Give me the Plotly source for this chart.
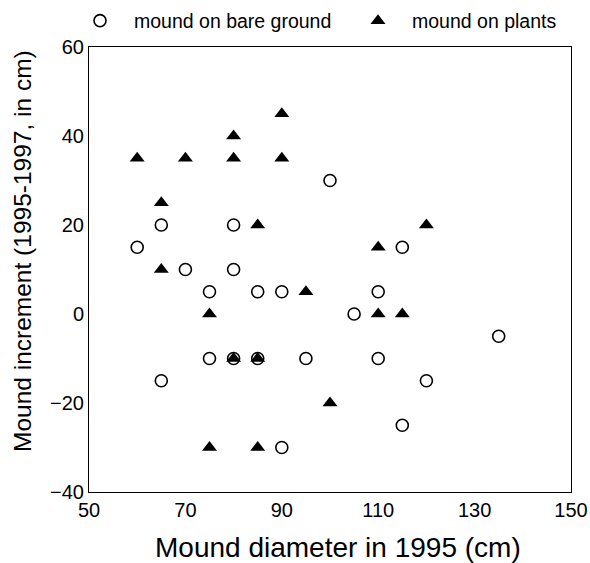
import plotly.graph_objects as go

bare_x = [60, 65, 65, 70, 75, 75, 80, 80, 80, 85, 85, 90, 90, 95, 100, 105, 110, 110, 115, 115, 120, 135]
bare_y = [15, 20, -15, 10, 5, -10, 20, 10, -10, 5, -10, 5, -30, -10, 30, 0, 5, -10, 15, -25, -15, -5]

plant_x = [60, 65, 65, 70, 75, 75, 80, 80, 80, 85, 85, 85, 90, 90, 95, 100, 110, 110, 115, 120]
plant_y = [35, 25, 10, 35, 0, -30, 40, 35, -10, 20, -10, -30, 45, 35, 5, -20, 15, 0, 0, 20]

x_ticks = [50, 70, 90, 110, 130, 150]
y_ticks = [-40, -20, 0, 20, 40, 60]

x_title = "Mound diameter in 1995 (cm)"
y_title = "Mound increment (1995-1997, in cm)"

font = "Liberation Sans, Arial, sans-serif"

W, H = 590, 563
L, R, T, B = 89, 19, 47, 71
PW, PH = W - L - R, H - T - B

fig = go.Figure()
fig.add_trace(go.Scatter(
    x=bare_x, y=bare_y, mode="markers", name="mound on bare ground", legend="legend",
    marker=dict(symbol="circle-open", size=12, color="black", line=dict(width=1.6)),
))
fig.add_trace(go.Scatter(
    x=plant_x, y=plant_y, mode="markers", name="mound on plants", legend="legend2",
    marker=dict(symbol="triangle-up", size=13, color="black", line=dict(width=0)),
))

leg_common = dict(orientation="h", yref="container", xref="container", y=1 - 21 / H, yanchor="middle",
                  xanchor="left", font=dict(size=19.5), itemwidth=58, bgcolor="rgba(0,0,0,0)")

fig.update_layout(
    width=W, height=H,
    margin=dict(l=L, r=R, t=T, b=B, autoexpand=False),
    paper_bgcolor="white", plot_bgcolor="white",
    font=dict(family=font, color="black", size=19),
    showlegend=True,
    legend=dict(x=(100 - 34) / W, **leg_common),
    legend2=dict(x=(378 - 34) / W, **leg_common),
    xaxis=dict(range=[50, 150], tickvals=x_ticks, showgrid=False, zeroline=False,
               showline=True, linecolor="black", linewidth=1, mirror=True,
               ticks="", tickfont=dict(size=20), ticklabeloverflow="allow"),
    yaxis=dict(range=[-40, 60], tickvals=y_ticks, showgrid=False, zeroline=False,
               showline=True, linecolor="black", linewidth=1, mirror=True,
               ticks="", tickfont=dict(size=20), ticklabeloverflow="allow"),
    annotations=[
        dict(text=x_title, xref="paper", yref="paper", x=(338 - L) / PW, y=(T + PH - 547) / PH,
             xanchor="center", yanchor="middle", showarrow=False, font=dict(size=28)),
        dict(text=y_title, xref="paper", yref="paper", x=(22 - L) / PW, y=(T + PH - 251) / PH,
             xanchor="center", yanchor="middle", showarrow=False, textangle=-90, font=dict(size=24.5)),
    ],
)

fig.write_html("out.html", config={"displayModeBar": False},
               post_script="document.body.style.margin='0';document.body.style.overflow='hidden';")
